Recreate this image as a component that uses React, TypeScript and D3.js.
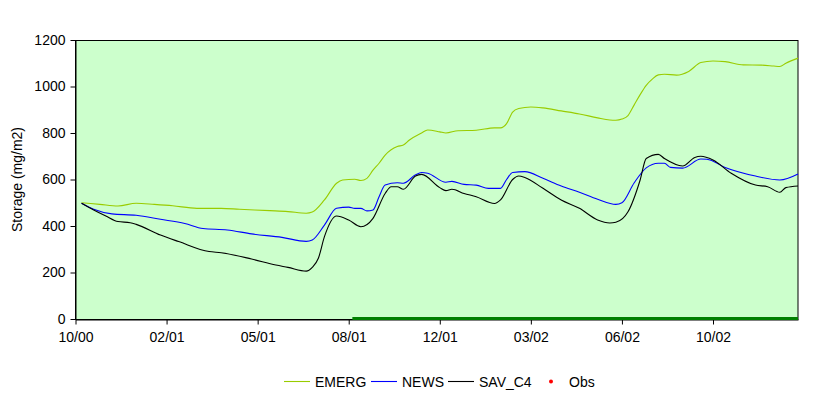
import React, { useRef, useEffect } from 'react';
import * as d3 from 'd3';

// weeks since start of record (one tick every 15 weeks)
const tickWeeks = [0, 15, 30, 45, 60, 75, 90, 105];
const tickLabels = ['10/00', '02/01', '05/01', '08/01', '12/01', '03/02', '06/02', '10/02'];
const yTicks = [0, 200, 400, 600, 800, 1000, 1200];

const emergWeeks = [1, 4, 7, 10, 13, 16, 20, 24, 27, 32, 35, 38, 39, 41, 43, 44, 46, 47, 48, 49, 50, 51, 53, 54, 55, 57, 58, 60, 61, 63, 66, 69, 70, 71, 72, 73, 75, 77, 80, 83, 86, 88, 89, 90, 91, 92, 93, 94, 95, 96, 97, 99, 101, 103, 105, 107, 110, 113, 115, 116, 117, 119];
const emergValues = [500, 493, 486, 498, 493, 487, 476, 476, 472, 466, 462, 455, 460, 512, 584, 598, 601, 596, 605, 640, 670, 705, 742, 748, 770, 800, 813, 805, 800, 810, 812, 822, 822, 840, 890, 905, 912, 908, 895, 882, 865, 856, 855, 860, 875, 920, 965, 1005, 1032, 1050, 1053, 1049, 1065, 1103, 1110, 1107, 1093, 1092, 1088, 1086, 1100, 1122];

const newsWeeks = [1, 3, 6, 10, 14, 18, 21, 25, 29, 34, 38, 39, 41, 43, 45, 46, 47, 48, 49, 50, 51, 53, 54, 56, 57, 58, 61, 62, 64, 66, 68, 70, 71, 72, 74, 77, 80, 83, 86, 89, 90, 92, 94, 96, 97, 98, 100, 103, 104, 107, 112, 116, 119];
const newsValues = [498, 472, 452, 446, 429, 411, 389, 383, 366, 351, 334, 340, 404, 476, 481, 476, 476, 465, 469, 526, 576, 586, 584, 620, 630, 627, 588, 592, 579, 576, 562, 562, 600, 630, 634, 605, 572, 545, 515, 493, 500, 585, 650, 670, 670, 652, 649, 688, 687, 652, 615, 598, 624];

const savWeeks = [1, 3, 5, 7, 9, 10, 14, 17, 22, 24, 29, 33, 35, 38, 39, 40, 41, 43, 45, 47, 49, 51, 52, 53, 54, 56, 57, 60, 61, 62, 64, 66, 69, 70, 72, 73, 74, 77, 80, 83, 86, 88, 89, 91, 93, 94, 96, 97, 100, 102, 103, 105, 108, 112, 114, 116, 117, 119];
const savValues = [498, 469, 443, 419, 414, 407, 361, 333, 290, 285, 258, 232, 222, 206, 222, 261, 354, 443, 426, 397, 433, 540, 569, 569, 558, 615, 622, 565, 552, 558, 540, 526, 497, 512, 600, 615, 609, 562, 512, 476, 426, 413, 416, 461, 598, 690, 708, 690, 658, 695, 700, 684, 627, 576, 569, 545, 565, 572];

// thick green span along the zero line
const spanWeeks = [45.6, 119];
const spanValues = [0, 0];

const series = [
  { name: 'EMERG', weeks: emergWeeks, values: emergValues, color: '#99CC00' },
  { name: 'NEWS', weeks: newsWeeks, values: newsValues, color: '#0000FF' },
  { name: 'SAV_C4', weeks: savWeeks, values: savValues, color: '#000000' },
];

const App = () => {
  const svgRef = useRef<SVGSVGElement | null>(null);

  useEffect(() => {
    const svg = d3.select(svgRef.current);
    svg.selectAll('*').remove();

    const left = 75.5, right = 798, top = 40, bottom = 319;
    const font = '"Liberation Sans", Arial, sans-serif';

    const x = d3.scaleLinear().domain([0, 119]).range([left, right]);
    const y = d3.scaleLinear().domain([0, 1200]).range([bottom, top]);

    // plot area
    svg.append('rect')
      .attr('x', left)
      .attr('y', top + 0.5)
      .attr('width', right - left)
      .attr('height', bottom - top)
      .attr('fill', '#CCFFCC')
      .attr('stroke', '#000')
      .attr('stroke-width', 1);

    // y axis
    const yAxis = svg.append('g')
      .attr('transform', `translate(${left},0)`)
      .call(d3.axisLeft(y).tickValues(yTicks).tickFormat(d3.format('d')).tickSize(5).tickSizeOuter(0));
    yAxis.select('.domain').attr('stroke', '#000');
    yAxis.selectAll('.tick line').attr('stroke', '#000');
    yAxis.selectAll('.tick text')
      .attr('font-family', font)
      .attr('font-size', 14)
      .attr('fill', '#000')
      .attr('x', -10);

    // x axis
    const xAxis = svg.append('g')
      .attr('transform', `translate(0,${bottom + 0.5})`)
      .call(d3.axisBottom(x).tickValues(tickWeeks).tickFormat((d, i) => tickLabels[i]).tickSize(5).tickSizeOuter(0));
    xAxis.select('.domain').attr('stroke', '#000');
    xAxis.selectAll('.tick line').attr('stroke', '#000');
    xAxis.selectAll('.tick text')
      .attr('font-family', font)
      .attr('font-size', 14)
      .attr('fill', '#000')
      .attr('y', 13);

    // axis title
    svg.append('text')
      .attr('transform', `translate(22,${(top + bottom) / 2}) rotate(-90)`)
      .attr('text-anchor', 'middle')
      .attr('font-family', font)
      .attr('font-size', 14)
      .attr('fill', '#000')
      .text('Storage (mg/m2)');

    // green span
    svg.append('path')
      .datum(spanWeeks.map((w, i) => [w, spanValues[i]]))
      .attr('fill', 'none')
      .attr('stroke', '#008000')
      .attr('stroke-width', 3)
      .attr('d', d3.line<number[]>().x(d => x(d[0])).y(d => y(d[1]) - 0.5));

    // series lines
    const line = d3.line<number[]>()
      .x(d => x(d[0]))
      .y(d => y(d[1]))
      .curve(d3.curveMonotoneX);

    series.forEach(s => {
      svg.append('path')
        .datum(s.weeks.map((w, i) => [w, s.values[i]]))
        .attr('fill', 'none')
        .attr('stroke', s.color)
        .attr('stroke-width', 1.1)
        .attr('d', line);
    });

    // legend
    const legendY = 381.5;
    const legend = svg.append('g').attr('font-family', font).attr('font-size', 14);
    const items = [
      { name: 'EMERG', x: 284, color: '#99CC00', type: 'line' },
      { name: 'NEWS', x: 371, color: '#0000FF', type: 'line' },
      { name: 'SAV_C4', x: 448, color: '#000000', type: 'line' },
      { name: 'Obs', x: 548, color: '#FF0000', type: 'dot' },
    ];
    items.forEach(it => {
      if (it.type === 'line') {
        legend.append('line')
          .attr('x1', it.x).attr('x2', it.x + 26)
          .attr('y1', legendY).attr('y2', legendY)
          .attr('stroke', it.color).attr('stroke-width', 1.1);
        legend.append('text')
          .attr('x', it.x + 31).attr('y', legendY + 5)
          .attr('fill', '#000').text(it.name);
      } else {
        legend.append('circle')
          .attr('cx', it.x + 3).attr('cy', legendY)
          .attr('r', 2).attr('fill', it.color);
        legend.append('text')
          .attr('x', it.x + 21).attr('y', legendY + 5)
          .attr('fill', '#000').text(it.name);
      }
    });
  }, []);

  return (
    <svg
      ref={svgRef}
      width={832}
      height={399}
      style={{ position: 'absolute', left: 0, top: 0, background: '#fff' }}
    />
  );
};

export default App;
